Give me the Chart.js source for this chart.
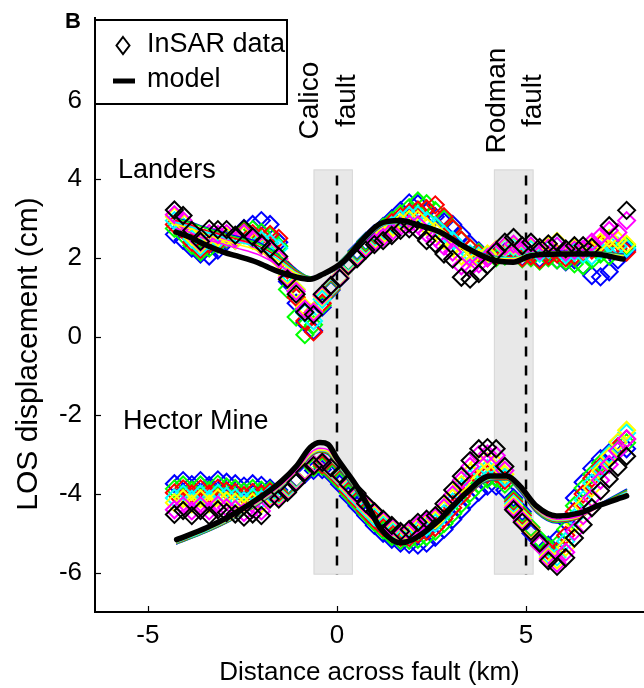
<!DOCTYPE html>
<html>
<head>
<meta charset="utf-8">
<script src="https://cdn.jsdelivr.net/npm/chart.js@4.4.1/dist/chart.umd.min.js"></script>
<style>
  html, body { margin: 0; padding: 0; background: #fff; }
  #wrap { position: relative; width: 644px; height: 688px; }
</style>
</head>
<body>
<div id="wrap"><canvas id="los-chart" width="644" height="688"></canvas></div>
<script>
// distance of each profile sample across the fault (km)
const distKm = [-4.3, -4.07, -3.84, -3.61, -3.38, -3.15, -2.92, -2.69, -2.46, -2.23, -2.0, -1.77, -1.54, -1.31, -1.08, -0.85, -0.62, -0.39, -0.16, 0.07,
  0.3, 0.53, 0.76, 0.99, 1.22, 1.45, 1.68, 1.91, 2.14, 2.37, 2.6, 2.83, 3.06, 3.29, 3.52, 3.75, 3.98, 4.21, 4.44, 4.67,
  4.9, 5.13, 5.36, 5.59, 5.82, 6.05, 6.28, 6.51, 6.74, 6.97, 7.2, 7.43, 7.66];

// Landers profiles, one per interferogram (cm)
const landersBlue = [2.6, 2.45, 2.25, 2.1, 2.05, 2.2, 2.42, 2.55, 2.75, 2.85, 2.95, 2.85, 2.4, 1.4, 0.85, 0.35, 0.15, 0.75, 1.18, 1.48,
  1.9, 2.18, 2.42, 2.62, 2.8, 3.0, 3.2, 3.4, 3.38, 3.2, 3.05, 2.92, 2.85, 2.6, 2.35, 2.18, 2.05, 2.08, 2.15, 2.12,
  2.02, 2.08, 1.98, 2.08, 1.95, 1.9, 1.95, 1.8, 1.55, 1.52, 1.65, 1.95, 2.2];
const landersGreen = [2.75, 2.6, 2.32, 2.15, 2.25, 2.35, 2.48, 2.5, 2.7, 2.72, 2.65, 2.55, 2.3, 1.2, 0.5, 0.05, 0.3, 0.8, 1.2, 1.5,
  1.9, 2.15, 2.4, 2.6, 2.78, 2.95, 3.12, 3.28, 3.45, 3.38, 3.2, 3.0, 2.75, 2.45, 2.25, 2.15, 2.05, 2.0, 2.05, 2.08,
  1.98, 2.0, 1.92, 2.0, 1.95, 1.92, 1.85, 1.8, 1.95, 2.1, 2.05, 2.2, 2.3];
const landersRed = [2.85, 2.7, 2.4, 2.22, 2.35, 2.4, 2.5, 2.45, 2.65, 2.62, 2.55, 2.6, 2.5, 1.7, 1.0, 0.4, 0.12, 0.85, 1.22, 1.5,
  1.88, 2.12, 2.35, 2.55, 2.72, 2.9, 3.05, 3.15, 3.22, 3.25, 3.35, 3.05, 2.75, 2.45, 2.25, 2.1, 2.0, 2.05, 2.1, 2.12,
  2.0, 2.05, 1.95, 2.05, 2.1, 2.0, 2.05, 2.15, 2.2, 2.35, 2.2, 2.25, 2.15];
const landersCyan = [2.95, 2.8, 2.48, 2.28, 2.45, 2.45, 2.52, 2.45, 2.62, 2.55, 2.45, 2.38, 2.25, 1.6, 1.2, 0.6, 0.4, 0.95, 1.25, 1.52,
  1.88, 2.1, 2.32, 2.5, 2.65, 2.82, 2.98, 3.08, 3.1, 2.95, 2.82, 2.6, 2.45, 2.2, 2.1, 2.05, 2.08, 2.2, 2.25, 2.28,
  2.15, 2.22, 2.12, 2.22, 2.3, 2.08, 2.15, 2.1, 2.05, 2.2, 2.35, 2.3, 2.25];
const landersYellow = [3.05, 2.9, 2.55, 2.35, 2.55, 2.52, 2.55, 2.45, 2.58, 2.45, 2.3, 2.18, 1.95, 1.55, 1.2, 0.75, 0.65, 1.02, 1.28, 1.52,
  1.85, 2.05, 2.28, 2.45, 2.6, 2.75, 2.9, 2.98, 2.98, 2.8, 2.68, 2.45, 2.3, 2.05, 1.98, 2.0, 2.1, 2.22, 2.28, 2.32,
  2.2, 2.28, 2.2, 2.3, 2.42, 2.2, 2.25, 2.2, 2.3, 2.4, 2.5, 2.45, 2.35];
const landersMagenta = [3.1, 2.95, 2.62, 2.4, 2.62, 2.6, 2.62, 2.5, 2.62, 2.48, 2.32, 2.2, 1.98, 1.5, 1.15, 0.7, 0.62, 1.05, 1.3, 1.5,
  1.82, 2.02, 2.25, 2.4, 2.52, 2.66, 2.8, 2.86, 2.84, 2.62, 2.52, 2.3, 2.15, 1.8, 1.75, 1.85, 2.0, 2.2, 2.3, 2.35,
  2.22, 2.3, 2.18, 2.25, 2.3, 2.15, 2.2, 2.22, 2.4, 2.55, 2.7, 2.65, 2.95];
const landersBlack = [3.22, 3.08, 2.7, 2.42, 2.74, 2.72, 2.72, 2.58, 2.74, 2.54, 2.36, 2.24, 2.04, 1.46, 1.08, 0.62, 0.56, 1.08, 1.3, 1.48,
  1.8, 1.98, 2.2, 2.34, 2.44, 2.57, 2.7, 2.74, 2.7, 2.44, 2.36, 2.1, 1.97, 1.51, 1.46, 1.6, 1.82, 2.16, 2.4, 2.52,
  2.31, 2.4, 2.27, 2.36, 2.4, 2.23, 2.31, 2.31, 2.27, null, 2.82, null, 3.21];

// Hector Mine profiles (cm)
const hectorBlue = [-3.74, -3.66, -3.76, -3.66, -3.78, -3.64, -3.7, -3.74, -3.8, -3.74, -3.78, -3.85, -3.9, -3.8, -3.65, -3.5, -3.4, -3.38, -3.5, -3.75,
  -4.05, -4.3, -4.55, -4.8, -5.0, -5.15, -5.25, -5.28, -5.3, -5.25, -5.1, -4.9, -4.65, -4.4, -4.15, -3.95, -3.8, -3.8, -3.9, -4.1,
  -4.45, -5.0, -5.2, -5.3, -5.15, -4.7, -4.1, -3.7, -3.35, -3.1, -2.95, -2.9, -2.85];
const hectorGreen = [-3.87, -3.77, -3.9, -3.77, -3.9, -3.75, -3.82, -3.86, -3.94, -3.86, -3.9, -3.9, -3.95, -3.82, -3.62, -3.45, -3.33, -3.3, -3.45, -3.68,
  -3.98, -4.22, -4.48, -4.72, -4.92, -5.08, -5.18, -5.18, -5.15, -5.08, -4.95, -4.75, -4.5, -4.25, -3.98, -3.75, -3.62, -3.6, -3.75, -4.15,
  -4.5, -4.85, -5.15, -5.35, -5.3, -4.9, -4.3, -3.85, -3.5, -3.22, -3.0, -2.85, -2.7];
const hectorRed = [-3.97, -3.87, -4.0, -3.87, -4.0, -3.85, -3.92, -3.96, -4.04, -3.96, -4.0, -3.95, -3.98, -3.85, -3.62, -3.42, -3.28, -3.25, -3.4, -3.62,
  -3.92, -4.16, -4.42, -4.65, -4.85, -5.0, -5.1, -5.1, -5.02, -4.95, -4.85, -4.62, -4.35, -4.05, -3.78, -3.58, -3.5, -3.48, -3.65, -4.2,
  -4.55, -4.9, -5.25, -5.45, -5.45, -5.05, -4.45, -4.0, -3.6, -3.3, -3.05, -2.8, -2.6];
const hectorCyan = [-4.1, -4.0, -4.13, -4.0, -4.13, -3.98, -4.05, -4.09, -4.17, -4.09, -4.13, -4.02, -4.03, -3.88, -3.63, -3.4, -3.25, -3.2, -3.36, -3.57,
  -3.86, -4.1, -4.36, -4.58, -4.78, -4.93, -5.04, -5.04, -4.92, -4.84, -4.74, -4.5, -4.2, -3.88, -3.6, -3.4, -3.35, -3.38, -3.58, -4.25,
  -4.6, -4.92, -5.3, -5.55, -5.6, -5.2, -4.6, -4.15, -3.72, -3.35, -3.0, -2.7, -2.45];
const hectorYellow = [-4.22, -4.12, -4.25, -4.12, -4.25, -4.1, -4.17, -4.21, -4.29, -4.21, -4.25, -4.08, -4.07, -3.92, -3.66, -3.4, -3.24, -3.18, -3.34, -3.54,
  -3.82, -4.05, -4.3, -4.52, -4.72, -4.87, -5.0, -4.98, -4.85, -4.76, -4.66, -4.4, -4.1, -3.76, -3.45, -3.22, -3.18, -3.22, -3.5, -4.3,
  -4.62, -4.92, -5.3, -5.6, -5.68, -5.35, -4.75, -4.3, -3.85, -3.42, -3.05, -2.68, -2.38];
const hectorMagenta = [-4.4, -4.3, -4.43, -4.3, -4.43, -4.28, -4.35, -4.39, -4.47, -4.39, -4.43, -4.1, -4.1, -3.94, -3.68, -3.42, -3.25, -3.18, -3.32, -3.52,
  -3.78, -4.02, -4.27, -4.48, -4.68, -4.84, -4.97, -4.94, -4.8, -4.7, -4.6, -4.35, -4.02, -3.65, -3.3, -3.0, -2.98, -3.02, -3.4, -4.35,
  -4.68, -4.95, -5.3, -5.65, -5.76, -5.48, -4.95, -4.55, -4.1, -3.65, -3.25, -2.9, -2.6];
const hectorBlack = [-4.52, -4.42, -4.55, -4.42, -4.55, -4.4, -4.47, -4.51, -4.59, -4.51, -4.55, -4.13, -4.13, -3.96, -3.71, -3.45, -3.28, -3.2, -3.33, -3.5,
  -3.75, -3.98, -4.24, -4.45, -4.64, -4.8, -4.95, -4.9, -4.72, -4.64, -4.55, -4.25, -3.9, -3.55, -3.15, -2.85, -2.82, -2.85, -3.3, -4.4,
  -4.72, -4.95, -5.25, -5.7, -5.84, -5.62, -5.12, -4.78, -4.35, -3.92, -3.62, -3.32, -3.04];

// model curves
const landersModelKm = [-4.26, -3.89, -3.54, -3.0, -2.65, -2.12, -1.6, -1.06, -0.71, -0.37, 0.16, 0.69, 1.14, 1.67, 2.2, 2.72, 3.33, 4.05, 4.66, 5.1, 5.9, 6.78, 7.57];
const landersModel = [2.66, 2.53, 2.36, 2.15, 2.05, 1.89, 1.67, 1.51, 1.46, 1.59, 1.9, 2.48, 2.87, 2.95, 2.82, 2.66, 2.31, 1.97, 1.89, 2.05, 2.1, 2.1, 1.97];
const landersModelBlue = [3.02, 2.92, 2.8, 2.65, 2.55, 2.42, 2.12, 1.7, 1.52, 1.56, 1.82, 2.36, 2.78, 2.92, 2.86, 2.7, 2.34, 2.06, 2.0, 2.12, 2.17, 2.16, 2.1];
const landersModelGreen = [3.0, 2.9, 2.78, 2.62, 2.52, 2.38, 2.1, 1.68, 1.52, 1.56, 1.83, 2.38, 2.8, 2.92, 2.84, 2.66, 2.32, 2.05, 2.0, 2.12, 2.16, 2.16, 2.08];
const landersModelRed = [2.95, 2.85, 2.72, 2.58, 2.48, 2.32, 2.05, 1.65, 1.5, 1.56, 1.84, 2.38, 2.8, 2.9, 2.8, 2.62, 2.3, 2.04, 2.0, 2.12, 2.16, 2.15, 2.07];
const landersModelCyan = [2.9, 2.8, 2.68, 2.52, 2.42, 2.28, 2.0, 1.62, 1.5, 1.56, 1.84, 2.4, 2.8, 2.88, 2.78, 2.6, 2.28, 2.03, 2.0, 2.12, 2.16, 2.15, 2.06];
const landersModelYellow = [2.85, 2.75, 2.62, 2.45, 2.35, 2.2, 1.95, 1.6, 1.48, 1.55, 1.85, 2.42, 2.82, 2.9, 2.78, 2.6, 2.28, 2.02, 1.98, 2.1, 2.15, 2.14, 2.05];
const landersModelMagenta = [2.75, 2.65, 2.5, 2.35, 2.25, 2.1, 1.85, 1.55, 1.45, 1.55, 1.85, 2.45, 2.85, 2.92, 2.8, 2.62, 2.3, 2.0, 1.95, 2.08, 2.12, 2.12, 2.0];

const hectorModelKm = [-4.24, -3.45, -2.83, -2.12, -1.51, -1.07, -0.71, -0.45, -0.23, -0.01, 0.52, 0.87, 1.14, 1.67, 2.0, 2.72, 3.43, 4.05, 4.49, 4.84, 5.28, 5.81, 6.43, 6.87, 7.66];
const hectorModel = [-5.16, -4.86, -4.56, -4.14, -3.71, -3.29, -2.82, -2.69, -2.74, -3.08, -3.8, -4.39, -4.86, -5.24, -5.16, -4.65, -3.96, -3.54, -3.54, -3.8, -4.31, -4.56, -4.48, -4.31, -4.05];
const hectorModelBlue = [-5.27, -4.97, -4.69, -4.29, -3.87, -3.48, -3.06, -2.94, -3.0, -3.28, -3.96, -4.5, -4.95, -5.22, -5.11, -4.61, -4.03, -3.65, -3.64, -3.94, -4.48, -4.74, -4.6, -4.3, -3.88];
const hectorModelGreen = [-5.26, -4.96, -4.68, -4.28, -3.86, -3.47, -3.05, -2.93, -2.98, -3.26, -3.94, -4.48, -4.94, -5.22, -5.12, -4.62, -4.02, -3.64, -3.63, -3.92, -4.46, -4.72, -4.6, -4.32, -3.9];
const hectorModelRed = [-5.25, -4.95, -4.67, -4.27, -3.85, -3.46, -3.04, -2.92, -2.96, -3.24, -3.92, -4.47, -4.93, -5.22, -5.12, -4.62, -4.01, -3.63, -3.62, -3.9, -4.44, -4.7, -4.6, -4.34, -3.93];
const hectorModelCyan = [-5.24, -4.94, -4.66, -4.26, -3.84, -3.45, -3.02, -2.9, -2.94, -3.22, -3.9, -4.46, -4.92, -5.22, -5.13, -4.63, -4.0, -3.62, -3.6, -3.88, -4.42, -4.68, -4.58, -4.34, -3.95];
const hectorModelYellow = [-5.22, -4.92, -4.64, -4.24, -3.82, -3.43, -3.0, -2.88, -2.92, -3.2, -3.88, -4.44, -4.9, -5.22, -5.14, -4.64, -3.99, -3.6, -3.58, -3.86, -4.4, -4.66, -4.58, -4.36, -3.98];
const hectorModelMagenta = [-5.2, -4.9, -4.62, -4.22, -3.8, -3.4, -2.96, -2.84, -2.88, -3.18, -3.86, -4.42, -4.88, -5.22, -5.14, -4.64, -3.98, -3.58, -3.56, -3.84, -4.38, -4.64, -4.56, -4.36, -4.0];

// fault zones: shaded width, trace position and label
const faultZoneKm = [[-0.62, 0.42], [4.15, 5.2]];
const faultTraceKm = [0, 5];
const faultZoneDepth = [-6.05, 4.25];
const faultLabels = [["Calico", "fault"], ["Rodman", "fault"]];
const faultLabelKm = [[-0.71, 0.26], [4.25, 5.19]];
const faultLabelY = 6.0;

const regionNames = ["Landers", "Hector Mine"];
const regionKm = [-5.79, -5.66];
const regionY = [4.22, -2.16];

const xTicks = [-5, 0, 5];
const yTicks = [-6, -4, -2, 0, 2, 4, 6];

const FONT = "'Liberation Sans', Arial, Helvetica, sans-serif";
const colors = { blue: "#0000ff", green: "#00ff00", red: "#ff0000", cyan: "#00ffff", yellow: "#ffff00", magenta: "#ff00ff", black: "#000000" };

function pts(xs, ys) {
  return xs.map((x, i) => ({ x: x, y: ys[i] }));
}

function diamonds(ys, color) {
  return {
    data: pts(distKm, ys),
    showLine: false,
    pointStyle: "rectRot",
    pointRadius: 8.5,
    pointBorderWidth: 2,
    pointBorderColor: color,
    pointBackgroundColor: "rgba(0,0,0,0)"
  };
}

function modelLine(xs, ys, color, width) {
  return {
    data: pts(xs, ys),
    showLine: true,
    borderColor: color,
    borderWidth: width,
    pointRadius: 0,
    cubicInterpolationMode: "monotone",
    borderCapStyle: "round",
    borderJoinStyle: "round"
  };
}

// painted bottom to top
const layers = [
  diamonds(landersBlue, colors.blue), diamonds(landersGreen, colors.green), diamonds(landersRed, colors.red),
  diamonds(landersCyan, colors.cyan), diamonds(landersYellow, colors.yellow), diamonds(landersMagenta, colors.magenta),
  diamonds(hectorBlue, colors.blue), diamonds(hectorGreen, colors.green), diamonds(hectorRed, colors.red),
  diamonds(hectorCyan, colors.cyan), diamonds(hectorYellow, colors.yellow), diamonds(hectorMagenta, colors.magenta),
  modelLine(landersModelKm, landersModelBlue, colors.blue, 1.5), modelLine(landersModelKm, landersModelGreen, colors.green, 1.5),
  modelLine(landersModelKm, landersModelRed, colors.red, 1.5), modelLine(landersModelKm, landersModelCyan, colors.cyan, 1.5),
  modelLine(landersModelKm, landersModelYellow, colors.yellow, 1.5), modelLine(landersModelKm, landersModelMagenta, colors.magenta, 1.5),
  modelLine(hectorModelKm, hectorModelBlue, colors.blue, 1.5), modelLine(hectorModelKm, hectorModelGreen, colors.green, 1.5),
  modelLine(hectorModelKm, hectorModelRed, colors.red, 1.5), modelLine(hectorModelKm, hectorModelCyan, colors.cyan, 1.5),
  modelLine(hectorModelKm, hectorModelYellow, colors.yellow, 1.5), modelLine(hectorModelKm, hectorModelMagenta, colors.magenta, 1.5),
  diamonds(landersBlack, colors.black), diamonds(hectorBlack, colors.black),
  modelLine(landersModelKm, landersModel, colors.black, 5.5), modelLine(hectorModelKm, hectorModel, colors.black, 5.5)
];
layers.forEach((ds, i) => { ds.order = layers.length - i; });

// shaded fault zones and dashed traces under the data
const faultZones = {
  id: "faultZones",
  beforeDatasetsDraw(chart) {
    const ctx = chart.ctx, xs = chart.scales.x, ys = chart.scales.y;
    const yTop = ys.getPixelForValue(faultZoneDepth[1]);
    const yBot = ys.getPixelForValue(faultZoneDepth[0]);
    ctx.save();
    faultZoneKm.forEach(z => {
      const x0 = xs.getPixelForValue(z[0]), x1 = xs.getPixelForValue(z[1]);
      ctx.fillStyle = "#e8e8e8";
      ctx.fillRect(x0, yTop, x1 - x0, yBot - yTop);
      ctx.strokeStyle = "#d8d8d8";
      ctx.lineWidth = 1;
      ctx.strokeRect(x0 + 0.5, yTop + 0.5, x1 - x0 - 1, yBot - yTop - 1);
    });
    ctx.strokeStyle = "#000";
    ctx.lineWidth = 2.5;
    ctx.setLineDash([10, 9]);
    faultTraceKm.forEach(k => {
      const x = xs.getPixelForValue(k);
      ctx.beginPath();
      ctx.moveTo(x, yTop + 6);
      ctx.lineTo(x, yBot);
      ctx.stroke();
    });
    ctx.restore();
  }
};

// inward ticks, annotations, legend and axis titles
const decorations = {
  id: "decorations",
  afterDraw(chart) {
    const ctx = chart.ctx, xs = chart.scales.x, ys = chart.scales.y, area = chart.chartArea;
    ctx.save();
    ctx.strokeStyle = "#000";
    ctx.lineWidth = 1.2;
    yTicks.forEach(v => {
      const y = Math.round(ys.getPixelForValue(v)) + 0.5;
      ctx.beginPath(); ctx.moveTo(area.left, y); ctx.lineTo(area.left + 6, y); ctx.stroke();
    });
    xTicks.forEach(v => {
      const x = Math.round(xs.getPixelForValue(v)) + 0.5;
      ctx.beginPath(); ctx.moveTo(x, area.bottom); ctx.lineTo(x, area.bottom - 6); ctx.stroke();
    });

    ctx.fillStyle = "#000";
    // fault names, rotated
    ctx.font = "28px " + FONT;
    ctx.textAlign = "center";
    ctx.textBaseline = "middle";
    faultLabels.forEach((lines, i) => {
      lines.forEach((txt, j) => {
        ctx.save();
        ctx.translate(xs.getPixelForValue(faultLabelKm[i][j]), ys.getPixelForValue(faultLabelY));
        ctx.rotate(-Math.PI / 2);
        ctx.fillText(txt, 0, 0);
        ctx.restore();
      });
    });

    // earthquake names
    ctx.font = "27px " + FONT;
    ctx.textAlign = "left";
    regionNames.forEach((name, i) => {
      ctx.fillText(name, xs.getPixelForValue(regionKm[i]), ys.getPixelForValue(regionY[i]));
    });

    // legend box
    ctx.fillStyle = "#fff";
    ctx.fillRect(area.left, 20, 192, 84);
    ctx.strokeStyle = "#000";
    ctx.lineWidth = 2;
    ctx.strokeRect(area.left, 20, 192, 84);
    ctx.lineWidth = 2;
    ctx.beginPath();
    ctx.moveTo(123, 37); ctx.lineTo(129.5, 45.5); ctx.lineTo(123, 54); ctx.lineTo(116.5, 45.5); ctx.closePath();
    ctx.stroke();
    ctx.lineWidth = 5;
    ctx.beginPath(); ctx.moveTo(113, 81); ctx.lineTo(135, 81); ctx.stroke();
    ctx.fillStyle = "#000";
    ctx.font = "27px " + FONT;
    ctx.textBaseline = "middle";
    ctx.fillText("InSAR data", 147, 45);
    ctx.fillText("model", 147, 80);

    // panel letter
    ctx.font = "bold 22px " + FONT;
    ctx.textBaseline = "alphabetic";
    ctx.fillText("B", 65, 28);

    // axis titles
    ctx.font = "26px " + FONT;
    ctx.textAlign = "center";
    ctx.fillText("Distance across fault (km)", (area.left + area.right) / 2, 680);
    ctx.save();
    ctx.translate(37, 354);
    ctx.rotate(-Math.PI / 2);
    ctx.font = "30px " + FONT;
    ctx.fillText("LOS displacement (cm)", 0, 0);
    ctx.restore();
    ctx.restore();
  }
};

new Chart(document.getElementById("los-chart"), {
  type: "scatter",
  data: { datasets: layers },
  options: {
    responsive: false,
    devicePixelRatio: 1,
    animation: false,
    layout: { autoPadding: false, padding: { top: 18, right: 0, left: 0, bottom: 0 } },
    plugins: { legend: { display: false }, tooltip: { enabled: false } },
    scales: {
      x: {
        type: "linear",
        min: -6.4,
        max: 8.12,
        afterBuildTicks: s => { s.ticks = xTicks.map(v => ({ value: v })); },
        afterFit: s => { s.height = 76; s.paddingLeft = 0; s.paddingRight = 0; },
        grid: { display: false, drawTicks: false },
        border: { display: true, color: "#000", width: 2 },
        ticks: { color: "#000", font: { family: FONT, size: 26 }, padding: 8, maxRotation: 0 }
      },
      y: {
        type: "linear",
        min: -7,
        max: 8.1,
        afterBuildTicks: s => { s.ticks = yTicks.map(v => ({ value: v })); },
        afterFit: s => { s.width = 95; s.paddingTop = 0; s.paddingBottom = 0; },
        grid: { display: false, drawTicks: false },
        border: { display: true, color: "#000", width: 2 },
        ticks: { color: "#000", font: { family: FONT, size: 26 }, padding: 13 }
      }
    }
  },
  plugins: [faultZones, decorations]
});
</script>
</body>
</html>
